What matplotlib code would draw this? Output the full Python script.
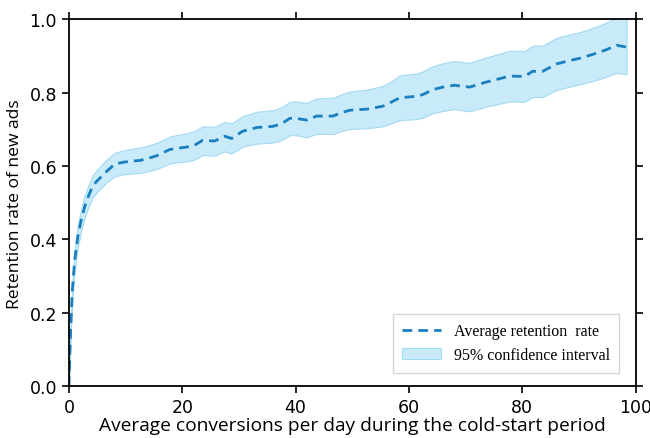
import numpy as np
import matplotlib.pyplot as plt

# conversions per day (x), mean retention and 95% CI bounds
conv = [0, 0.3, 0.6, 1.0, 1.6, 2.2, 2.8, 3.5, 4.2, 5.0, 6.0, 6.7, 7.5, 8.1,
        9.5, 10.8, 12.5, 13.8, 15.5, 17.8, 19.0, 20.5, 22.0, 23.6, 25.7, 27.5,
        28.7, 30.7, 33.2, 36.0, 37.5, 39.0, 40.0, 42.0, 43.7, 46.6, 48.0, 49.6,
        52.6, 55.4, 57.0, 58.4, 61.4, 62.5, 64.2, 66.0, 68.0, 70.7, 73.7, 75.5,
        77.8, 80.4, 81.8, 83.6, 86.0, 88.0, 90.0, 92.0, 93.6, 95.0, 96.6, 98.4]
retention = [0.0, 0.15, 0.26, 0.34, 0.41, 0.455, 0.49, 0.52, 0.545, 0.56, 0.575,
             0.586, 0.597, 0.605, 0.61, 0.613, 0.615, 0.62, 0.628, 0.645, 0.648,
             0.651, 0.655, 0.670, 0.668, 0.681, 0.675, 0.695, 0.705, 0.708, 0.715,
             0.73, 0.73, 0.725, 0.736, 0.736, 0.745, 0.752, 0.755, 0.763, 0.775,
             0.786, 0.79, 0.795, 0.808, 0.815, 0.82, 0.815, 0.829, 0.836, 0.845,
             0.844, 0.858, 0.858, 0.878, 0.886, 0.893, 0.902, 0.91, 0.918, 0.929,
             0.924]
ci_low = [0.0, 0.13, 0.235, 0.31, 0.38, 0.425, 0.46, 0.49, 0.515, 0.53, 0.545,
          0.556, 0.565, 0.572, 0.577, 0.579, 0.581, 0.585, 0.592, 0.607, 0.610,
          0.612, 0.616, 0.630, 0.628, 0.640, 0.634, 0.653, 0.661, 0.664, 0.670,
          0.684, 0.684, 0.678, 0.688, 0.687, 0.695, 0.701, 0.703, 0.708, 0.717,
          0.725, 0.728, 0.732, 0.744, 0.750, 0.755, 0.749, 0.762, 0.768, 0.776,
          0.775, 0.788, 0.788, 0.807, 0.815, 0.822, 0.830, 0.837, 0.844, 0.854,
          0.850]
ci_high = [0.0, 0.17, 0.285, 0.37, 0.44, 0.485, 0.52, 0.55, 0.575, 0.59, 0.607,
           0.618, 0.628, 0.636, 0.642, 0.646, 0.650, 0.655, 0.663, 0.680, 0.684,
           0.688, 0.694, 0.708, 0.707, 0.720, 0.716, 0.736, 0.748, 0.752, 0.760,
           0.775, 0.776, 0.772, 0.784, 0.786, 0.795, 0.803, 0.808, 0.818, 0.832,
           0.847, 0.852, 0.858, 0.872, 0.880, 0.886, 0.881, 0.896, 0.904, 0.914,
           0.913, 0.928, 0.928, 0.949, 0.957, 0.964, 0.974, 0.983, 0.992, 1.004,
           1.0]

fig = plt.figure(figsize=(6.5, 4.39), dpi=100)
ax = fig.add_axes([0.106, 0.118, 0.872, 0.836])

band = ax.fill_between(conv, ci_low, ci_high, facecolor="#c8eaf9",
                       edgecolor="#a3daf4", lw=0.8, zorder=1)
line, = ax.plot(conv, retention, "--", color="#1a7fbf", lw=2.0,
                dashes=(3.5, 2.2), zorder=2)

ax.set_xlim(0, 100)
ax.set_ylim(0, 1.0)
ax.set_xticks([0, 20, 40, 60, 80, 100])
ax.set_yticks([0.0, 0.2, 0.4, 0.6, 0.8, 1.0])
ax.tick_params(direction="out", top=True, right=True, labelsize=12.5,
               length=5, width=1.2)
for s in ax.spines.values():
    s.set_linewidth(1.3)

ax.set_xlabel("Average conversions per day during the cold-start period",
              family="Open Sans", fontsize=13.8, labelpad=0)
ax.set_ylabel("Retention rate of new ads", family="Open Sans", fontsize=12.6,
              labelpad=5)

ax.legend([line, band], ["Average retention  rate", "95% confidence interval"],
          loc="lower right", prop={"family": "Liberation Serif", "size": 11.5},
          frameon=True, fancybox=False, edgecolor="#cccccc", borderpad=0.6,
          handlelength=2.4, bbox_to_anchor=(0.985, 0.015))

fig.savefig("out.png", dpi=100)
